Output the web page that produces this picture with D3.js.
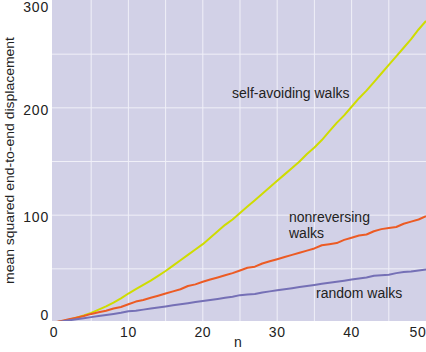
<!DOCTYPE html>
<html>
<head>
<meta charset="utf-8">
<script src="https://cdn.jsdelivr.net/npm/d3@7"></script>
<style>
  body { margin: 0; background: #fff; }
  svg { display: block; font-family: 'Liberation Sans', Arial, sans-serif; }
</style>
</head>
<body>
<div id="chart"></div>
<script>
// data
const steps = d3.range(0, 51)
const selfAvoiding = [
  0, 1, 2.5, 4.5, 6.5, 9, 12, 15, 18.5, 22.5, 27, 31, 35, 39, 43.5, 48, 53, 58, 63, 68,
  73, 79, 85, 91, 96, 102, 108, 114, 120, 126, 132, 138, 144, 150, 157, 163, 170, 178, 186, 193,
  201, 209, 216, 224, 232, 240, 248, 256, 264, 273, 281,
]
const nonreversing = [
  0, 1.5, 3, 4.5, 6, 8, 9.5, 11, 13, 14.5, 17, 19.5, 21, 23, 25, 27, 29, 31, 34, 35.5,
  38, 40, 42, 44, 46, 48.5, 51, 52, 55, 57, 59, 61, 63, 65, 67, 69, 72, 73, 74, 77,
  79, 81, 82, 85, 87, 88, 89, 92, 94, 96, 99,
]
const random = [
  0, 1, 2, 3, 4, 5, 6, 7, 8, 9, 10.5, 11, 12, 13, 14, 15, 16, 17, 18, 19,
  20, 21, 22, 23, 24, 25.5, 26, 26.5, 28, 29, 30, 31, 32, 33, 34, 35, 36, 37, 38, 39,
  40, 41, 42, 43.5, 44, 44.5, 46, 47, 47.5, 48.5, 49.5,
]
const xTicks = [0, 10, 20, 30, 40, 50]
const yTicks = [0, 100, 200, 300]
const xGrid = d3.range(5, 50, 5)
const yGrid = d3.range(50, 300, 50)

const series = [
  { name: 'self-avoiding', values: selfAvoiding, color: '#cfdc00' },
  { name: 'nonreversing', values: nonreversing, color: '#ec5b24' },
  { name: 'random', values: random, color: '#7570b6' },
]

// size
const W = 426
const H = 352
const plotLeft = 52
const plotBottom = 321

// scale
const x = d3.scaleLinear().domain([0, 50]).range([54, 426])
const y = d3.scaleLinear().domain([0, 300]).range([322.5, 0.5])

const svg = d3.select('#chart').append('svg')
  .attr('width', W)
  .attr('height', H)

svg.append('defs').append('clipPath').attr('id', 'plot-clip')
  .append('rect')
  .attr('x', plotLeft).attr('y', 0)
  .attr('width', W - plotLeft).attr('height', plotBottom)

// background
svg.append('rect')
  .attr('x', plotLeft).attr('y', 0)
  .attr('width', W - plotLeft).attr('height', plotBottom)
  .attr('fill', '#d2d1e7')

// grid
svg.append('g').selectAll('line').data(xGrid).join('line')
  .attr('x1', d => x(d)).attr('x2', d => x(d))
  .attr('y1', 0).attr('y2', plotBottom)
  .attr('stroke', '#f0f0f8').attr('stroke-width', 1)

svg.append('g').selectAll('line').data(yGrid).join('line')
  .attr('x1', plotLeft).attr('x2', W)
  .attr('y1', d => y(d)).attr('y2', d => y(d))
  .attr('stroke', '#f0f0f8').attr('stroke-width', 1)

// lines
const line = d3.line()
  .x((d, i) => x(steps[i]))
  .y(d => y(d))

svg.append('g').attr('clip-path', 'url(#plot-clip)')
  .selectAll('path').data(series).join('path')
  .attr('d', d => line(d.values))
  .attr('fill', 'none')
  .attr('stroke', d => d.color)
  .attr('stroke-width', 2)
  .attr('stroke-linejoin', 'round')

// tick labels
svg.append('g').selectAll('text').data(xTicks).join('text')
  .attr('x', d => Math.min(x(d), 418))
  .attr('y', 337)
  .attr('text-anchor', 'middle')
  .attr('font-size', '14px')
  .attr('letter-spacing', '0.6px')
  .attr('fill', '#222')
  .text(d => d)

svg.append('g').selectAll('text').data(yTicks).join('text')
  .attr('x', 49)
  .attr('y', d => Math.min(Math.max(y(d) + 7, 12), 320))
  .attr('text-anchor', 'end')
  .attr('font-size', '14px')
  .attr('letter-spacing', '0.8px')
  .attr('fill', '#222')
  .text(d => d)

// axis labels
svg.append('text')
  .attr('x', 238).attr('y', 347)
  .attr('text-anchor', 'middle')
  .attr('font-size', '14px')
  .attr('fill', '#222')
  .text('n')

svg.append('text')
  .attr('transform', 'translate(13.5, 160.5) rotate(-90)')
  .attr('text-anchor', 'middle')
  .attr('font-size', '13.5px')
  .attr('textLength', 247)
  .attr('lengthAdjust', 'spacingAndGlyphs')
  .attr('fill', '#222')
  .text('mean squared end-to-end displacement')

// annotations
const notes = [
  { x: 232, y: 98, text: 'self-avoiding walks' },
  { x: 289, y: 222, text: 'nonreversing' },
  { x: 289, y: 238, text: 'walks' },
  { x: 316, y: 298, text: 'random walks' },
]
svg.append('g').selectAll('text').data(notes).join('text')
  .attr('x', d => d.x).attr('y', d => d.y)
  .attr('font-size', '14px')
  .attr('fill', '#222')
  .text(d => d.text)
</script>
</body>
</html>
